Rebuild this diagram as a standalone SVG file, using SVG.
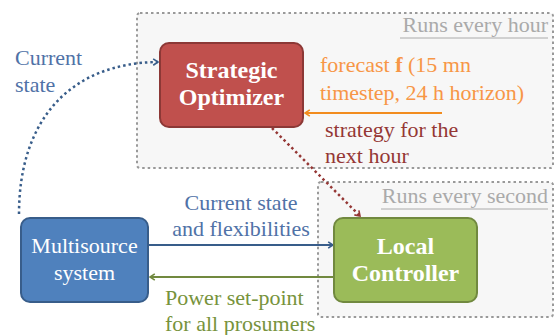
<svg xmlns="http://www.w3.org/2000/svg" width="555" height="335" viewBox="0 0 555 335">
<style>
.zone{fill:#f7f7f7;stroke:#999;stroke-width:2;stroke-dasharray:2.5 3}
.t{font-family:'Liberation Serif','DejaVu Serif',serif;font-size:22px}
.n{font-family:'Liberation Serif','DejaVu Serif',serif;font-size:22px;fill:#fff;text-anchor:middle}
.b{font-weight:bold}
.nb{font-size:24px}
.gray{fill:#aaa}
</style>
<defs>
<marker id="mb" viewBox="0 0 10 10" refX="8" refY="5" markerWidth="8" markerHeight="8" orient="auto" markerUnits="userSpaceOnUse"><path d="M2,1 L8,5 L2,9" fill="none" stroke="#385d8a" stroke-width="2"/></marker>
<marker id="mr" viewBox="0 0 10 10" refX="8" refY="5" markerWidth="8" markerHeight="8" orient="auto" markerUnits="userSpaceOnUse"><path d="M2,1 L8,5 L2,9" fill="none" stroke="#953735" stroke-width="2"/></marker>
<marker id="mo" viewBox="0 0 10 10" refX="8" refY="5" markerWidth="8" markerHeight="8" orient="auto" markerUnits="userSpaceOnUse"><path d="M2,1 L8,5 L2,9" fill="none" stroke="#f28c1e" stroke-width="2"/></marker>
<marker id="mg" viewBox="0 0 10 10" refX="8" refY="5" markerWidth="8" markerHeight="8" orient="auto" markerUnits="userSpaceOnUse"><path d="M2,1 L8,5 L2,9" fill="none" stroke="#71893f" stroke-width="2"/></marker>
</defs>
<g id="zone-hour">
<rect class="zone" x="137" y="13" width="416" height="155" rx="3"/>
<text class="t gray" x="548" y="32" text-anchor="end">Runs every hour</text>
<line x1="400" y1="38" x2="548" y2="38" stroke="#aaa" stroke-width="1"/>
</g>
<g id="zone-second">
<rect class="zone" x="318" y="182" width="235" height="135" rx="3"/>
<text class="t gray" x="548" y="203" text-anchor="end">Runs every second</text>
<line x1="381" y1="209" x2="548" y2="209" stroke="#aaa" stroke-width="1"/>
</g>
<g id="connectors">
<path d="M19 214 C19 120 70 63 158 62" fill="none" stroke="#385d8a" stroke-width="2.5" stroke-dasharray="2.5 3" marker-end="url(#mb)"/>
<line x1="272" y1="128" x2="360" y2="216" stroke="#953735" stroke-width="2.5" stroke-dasharray="2.5 3" marker-end="url(#mr)"/>
<line x1="442" y1="113" x2="305" y2="113" stroke="#f28c1e" stroke-width="2" marker-end="url(#mo)"/>
<line x1="148" y1="245" x2="333" y2="245" stroke="#385d8a" stroke-width="2" marker-end="url(#mb)"/>
<line x1="334" y1="277" x2="150" y2="277" stroke="#71893f" stroke-width="2" marker-end="url(#mg)"/>
<text class="t" x="15" y="65" fill="#5072a7">Current</text>
<text class="t" x="15" y="92" fill="#5072a7">state</text>
<text class="t" x="320" y="72" fill="#f79646">forecast <tspan class="b">f</tspan> (15 mn</text>
<text class="t" x="320" y="100" fill="#f79646">timestep, 24 h horizon)</text>
<text class="t" x="325" y="137" fill="#953735">strategy for the</text>
<text class="t" x="325" y="163" fill="#953735">next hour</text>
<text class="t" x="241" y="210" fill="#5072a7" text-anchor="middle">Current state</text>
<text class="t" x="241" y="236" fill="#5072a7" text-anchor="middle">and flexibilities</text>
<text class="t" x="165" y="305" fill="#77933c">Power set-point</text>
<text class="t" x="165" y="331" fill="#77933c">for all prosumers</text>
</g>
<g id="strategic-optimizer">
<rect x="160" y="43" width="143" height="84" rx="9" fill="#c0504d" stroke="#8c3836" stroke-width="2"/>
<text class="n b nb" x="231.5" y="78">Strategic</text>
<text class="n b nb" x="231.5" y="105">Optimizer</text>
</g>
<g id="multisource-system">
<rect x="21" y="218" width="127" height="84" rx="9" fill="#4f81bd" stroke="#385d8a" stroke-width="2"/>
<text class="n" x="84.5" y="253">Multisource</text>
<text class="n" x="84.5" y="280">system</text>
</g>
<g id="local-controller">
<rect x="334" y="218" width="143" height="84" rx="9" fill="#9bbb59" stroke="#71893f" stroke-width="2"/>
<text class="n b nb" x="405.5" y="254">Local</text>
<text class="n b nb" x="405.5" y="281">Controller</text>
</g>
</svg>
